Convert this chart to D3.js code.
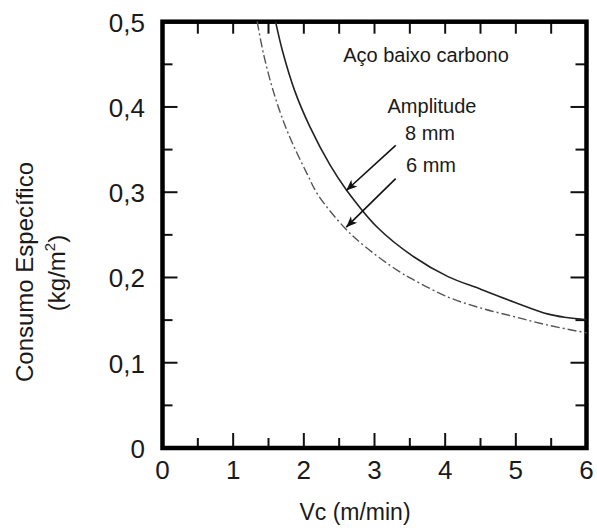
<!DOCTYPE html>
<html>
<head>
<meta charset="utf-8">
<script src="https://cdn.jsdelivr.net/npm/d3@7"></script>
<style>
  html, body { margin: 0; padding: 0; background: #fff; }
  svg text { font-family: "Liberation Sans", Arial, sans-serif; fill: #1a1a1a; }
</style>
</head>
<body>
<svg id="chart" width="597" height="530"></svg>
<script>
// Specific consumption vs. cutting speed, low-carbon steel
const vc8mm = [1.60, 1.70, 1.875, 2.09, 2.37, 2.60, 3.05, 3.56, 4.04, 4.51, 4.98, 5.46, 5.72, 6.00];
const consumo8mm = [0.500, 0.465, 0.418, 0.376, 0.332, 0.303, 0.258, 0.224, 0.201, 0.186, 0.171, 0.157, 0.153, 0.1505];
const vc6mm = [1.34, 1.43, 1.57, 1.73, 1.88, 2.05, 2.20, 2.58, 2.87, 3.33, 3.56, 4.04, 4.51, 4.98, 5.46, 6.00];
const consumo6mm = [0.500, 0.462, 0.418, 0.379, 0.350, 0.321, 0.297, 0.258, 0.236, 0.208, 0.197, 0.177, 0.164, 0.154, 0.144, 0.135];

const xTicks = [0, 1, 2, 3, 4, 5, 6];
const xMinorTicks = [0.5, 1.5, 2.5, 3.5, 4.5, 5.5];
const yTicks = [0, 0.1, 0.2, 0.3, 0.4, 0.5];
const yMinorTicks = [0.05, 0.15, 0.25, 0.35, 0.45];
const yTickLabels = ["0", "0,1", "0,2", "0,3", "0,4", "0,5"];

// arrow annotations: [start Vc, start consumo, tip Vc, tip consumo]
const arrows = [
  [3.30, 0.355, 2.60, 0.302],
  [3.30, 0.316, 2.60, 0.259]
];

const svg = d3.select("#chart");
const plotLeft = 162.5, plotRight = 586.5, plotTop = 21.7, plotBottom = 448;

const x = d3.scaleLinear().domain([0, 6]).range([plotLeft, plotRight]);
const y = d3.scaleLinear().domain([0, 0.5]).range([plotBottom, plotTop]);

// tick marks (inward on all four sides)
const tickG = svg.append("g").attr("stroke", "#111").attr("stroke-width", 2);
const tickLine = (x1, y1, x2, y2) =>
  tickG.append("line").attr("x1", x1).attr("y1", y1).attr("x2", x2).attr("y2", y2);

xTicks.forEach(v => {
  tickLine(x(v), plotBottom, x(v), plotBottom - 15);
  tickLine(x(v), plotTop, x(v), plotTop + 12);
});
xMinorTicks.forEach(v => {
  tickLine(x(v), plotBottom, x(v), plotBottom - 10);
  tickLine(x(v), plotTop, x(v), plotTop + 12);
});
yTicks.forEach(v => {
  tickLine(plotLeft, y(v), plotLeft + 15, y(v));
  tickLine(plotRight, y(v), plotRight - 16, y(v));
});
yMinorTicks.forEach(v => {
  tickLine(plotLeft, y(v), plotLeft + 10, y(v));
  tickLine(plotRight, y(v), plotRight - 11, y(v));
});

// frame
svg.append("rect")
  .attr("x", plotLeft).attr("y", plotTop)
  .attr("width", plotRight - plotLeft).attr("height", plotBottom - plotTop)
  .attr("fill", "none").attr("stroke", "#000").attr("stroke-width", 4.5);

// tick labels
svg.append("g").selectAll("text").data(xTicks).join("text")
  .attr("x", d => x(d)).attr("y", 479)
  .attr("text-anchor", "middle").attr("font-size", 26)
  .text(d => d);

svg.append("g").selectAll("text").data(yTicks).join("text")
  .attr("x", 145).attr("y", d => y(d) + 10)
  .attr("text-anchor", "end").attr("font-size", 26)
  .text((d, i) => yTickLabels[i]);

// axis titles
svg.append("text")
  .attr("x", 355).attr("y", 520)
  .attr("text-anchor", "middle").attr("font-size", 23)
  .text("Vc (m/min)");

svg.append("text")
  .attr("transform", "translate(33,272) rotate(-90)")
  .attr("text-anchor", "middle").attr("font-size", 24)
  .text("Consumo Específico");

const unitLabel = svg.append("text")
  .attr("transform", "translate(65,273) rotate(-90)")
  .attr("text-anchor", "middle").attr("font-size", 24);
unitLabel.append("tspan").text("(kg/m");
unitLabel.append("tspan").attr("dy", -10).attr("font-size", 15).text("2");
unitLabel.append("tspan").attr("dy", 10).text(")");

// curves
const line = d3.line()
  .x(d => x(d[0])).y(d => y(d[1]))
  .curve(d3.curveCatmullRom.alpha(0.5));

svg.append("path")
  .datum(vc8mm.map((v, i) => [v, consumo8mm[i]]))
  .attr("d", line)
  .attr("fill", "none").attr("stroke", "#222").attr("stroke-width", 1.6);

svg.append("path")
  .datum(vc6mm.map((v, i) => [v, consumo6mm[i]]))
  .attr("d", line)
  .attr("fill", "none").attr("stroke", "#555").attr("stroke-width", 1.4)
  .attr("stroke-dasharray", "9,3,2,3");

// arrowheads
svg.append("defs").append("marker")
  .attr("id", "head")
  .attr("viewBox", "-12 -6 14 12")
  .attr("refX", 0).attr("refY", 0)
  .attr("markerWidth", 14).attr("markerHeight", 12)
  .attr("markerUnits", "userSpaceOnUse")
  .attr("orient", "auto")
  .append("path")
  .attr("d", "M0,0 L-11,-4.5 L-8,0 L-11,4.5 Z")
  .attr("fill", "#111");

svg.append("g").selectAll("line").data(arrows).join("line")
  .attr("x1", d => x(d[0])).attr("y1", d => y(d[1]))
  .attr("x2", d => x(d[2])).attr("y2", d => y(d[3]))
  .attr("stroke", "#111").attr("stroke-width", 1.6)
  .attr("marker-end", "url(#head)");

// annotation text
const notes = [
  ["Aço baixo carbono", 426, 62],
  ["Amplitude", 432, 113],
  ["8 mm", 430, 140],
  ["6 mm", 431, 172]
];
svg.append("g").selectAll("text").data(notes).join("text")
  .attr("x", d => d[1]).attr("y", d => d[2])
  .attr("text-anchor", "middle").attr("font-size", 20)
  .text(d => d[0]);
</script>
</body>
</html>
